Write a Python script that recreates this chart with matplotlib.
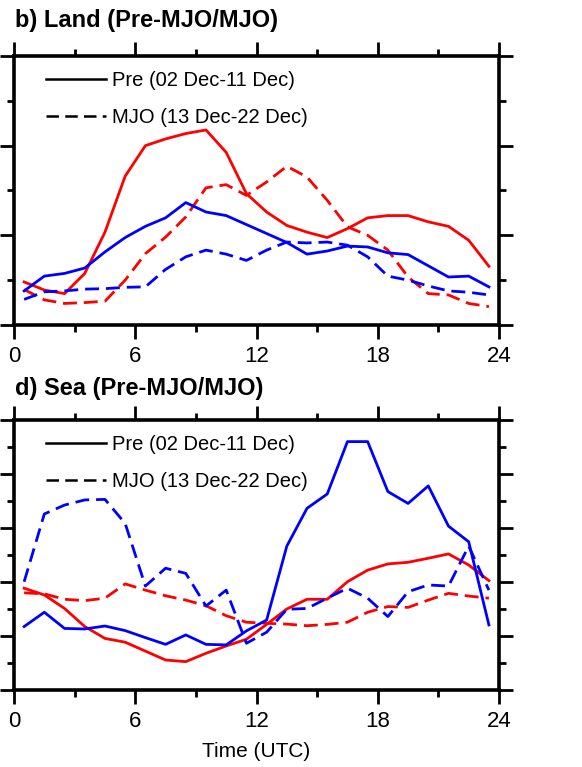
import matplotlib
matplotlib.use("Agg")
import matplotlib.pyplot as plt
from matplotlib.lines import Line2D
from matplotlib.ticker import MultipleLocator

plt.rcParams['font.family'] = ['Liberation Sans', 'DejaVu Sans']

hours = [h + 0.5 for h in range(24)]

# Land composites
land_pre_red = [0.96, 0.78, 0.70, 1.15, 2.07, 3.32, 4.00, 4.15, 4.27, 4.35, 3.85, 2.93,
                2.52, 2.22, 2.07, 1.95, 2.15, 2.39, 2.44, 2.44, 2.30, 2.20, 1.89, 1.31]
land_mjo_red = [0.79, 0.56, 0.48, 0.50, 0.53, 1.00, 1.59, 1.96, 2.41, 3.06, 3.13, 2.89,
                3.19, 3.54, 3.30, 2.78, 2.19, 2.00, 1.67, 1.07, 0.70, 0.67, 0.48, 0.41]
land_pre_blue = [0.76, 1.09, 1.15, 1.27, 1.63, 1.95, 2.20, 2.39, 2.73, 2.52, 2.44, 2.24,
                 2.04, 1.84, 1.58, 1.65, 1.76, 1.74, 1.61, 1.57, 1.32, 1.07, 1.09, 0.85]
land_mjo_blue = [0.57, 0.74, 0.76, 0.80, 0.81, 0.84, 0.85, 1.24, 1.52, 1.67, 1.58, 1.44,
                 1.67, 1.85, 1.83, 1.85, 1.78, 1.52, 1.09, 1.00, 0.87, 0.76, 0.73, 0.67]

# Sea composites
sea_pre_red = [3.77, 3.52, 3.02, 2.35, 1.91, 1.77, 1.44, 1.11, 1.05, 1.36, 1.63, 1.88,
               2.43, 3.00, 3.36, 3.36, 4.01, 4.44, 4.67, 4.73, 4.88, 5.04, 4.63, 4.05]
sea_mjo_red = [3.60, 3.56, 3.36, 3.31, 3.40, 3.93, 3.70, 3.49, 3.33, 3.12, 2.75, 2.51,
               2.47, 2.44, 2.38, 2.43, 2.51, 2.88, 3.09, 3.06, 3.33, 3.58, 3.48, 3.40]
sea_pre_blue = [2.35, 2.88, 2.28, 2.26, 2.37, 2.20, 1.94, 1.69, 2.04, 1.69, 1.67, 2.19,
                2.59, 5.33, 6.73, 7.26, 9.20, 9.20, 7.35, 6.91, 7.56, 6.07, 5.49, 2.41]
sea_mjo_blue = [4.01, 6.52, 6.85, 7.04, 7.06, 6.17, 3.85, 4.51, 4.32, 3.11, 3.70, 1.73,
                2.14, 2.99, 3.02, 3.40, 3.77, 3.40, 2.72, 3.64, 3.89, 3.85, 5.33, 3.70]

RED = '#ff0000'
BLUE = '#0000ff'
DASH = (5, 2.5)
LW = 2.0

fig = plt.figure(figsize=(5.82, 7.67), dpi=100)
ax1 = fig.add_axes([0.0241, 0.5763, 0.8333, 0.3507])
ax2 = fig.add_axes([0.0241, 0.1004, 0.8333, 0.3520])


def draw_panel(ax, pre_r, mjo_r, pre_b, mjo_b, ymax):
    ax.plot(hours, pre_r, color=RED, lw=LW)
    ax.plot(hours, mjo_r, color=RED, lw=LW, dashes=DASH)
    ax.plot(hours, pre_b, color=BLUE, lw=LW)
    ax.plot(hours, mjo_b, color=BLUE, lw=LW, dashes=DASH)
    ax.set_xlim(0, 24)
    ax.set_ylim(0, ymax)
    ax.xaxis.set_major_locator(MultipleLocator(6))
    ax.xaxis.set_minor_locator(MultipleLocator(3))
    ax.yaxis.set_major_locator(MultipleLocator(2))
    ax.yaxis.set_minor_locator(MultipleLocator(1))
    ax.tick_params(which='both', direction='out', top=True, right=True,
                   labelleft=False, width=2)
    ax.tick_params(which='major', length=10, labelsize=16, pad=5)
    ax.tick_params(which='minor', length=5)
    for s in ax.spines.values():
        s.set_linewidth(2.6)
    handles = [Line2D([], [], color='black', lw=1.8),
               Line2D([], [], color='black', lw=1.8, dashes=(5, 2.5))]
    ax.legend(handles, ['Pre (02 Dec-11 Dec)', 'MJO (13 Dec-22 Dec)'],
              loc='upper left', bbox_to_anchor=(0.066, 0.945), frameon=False,
              fontsize=14.5, handlelength=3.0, handletextpad=0.3,
              labelspacing=0.9, borderpad=0, borderaxespad=0)


draw_panel(ax1, land_pre_red, land_mjo_red, land_pre_blue, land_mjo_blue, 6)
draw_panel(ax2, sea_pre_red, sea_mjo_red, sea_pre_blue, sea_mjo_blue, 10)

ax2.set_xlabel('Time (UTC)', fontsize=15, labelpad=7)

fig.text(15 / 582, 1 - 20 / 767, 'b) Land (Pre-MJO/MJO)', fontsize=17,
         fontweight='bold', va='center', ha='left')
fig.text(15 / 582, 1 - 388 / 767, 'd) Sea (Pre-MJO/MJO)', fontsize=17,
         fontweight='bold', va='center', ha='left')

fig.savefig('out.png', dpi=100)
